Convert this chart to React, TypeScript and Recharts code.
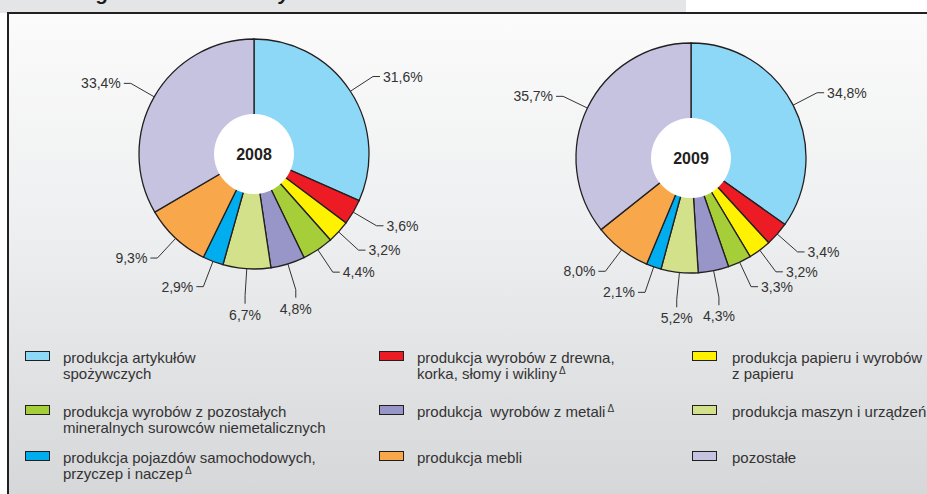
import { PieChart, Pie, Cell } from "recharts";

// ---------------------------------------------------------------------------
// Data
// ---------------------------------------------------------------------------

const HEADER = "według działów PKD w styczniu";

const YEARS = ["2008", "2009"];

// legend / slice names, "\n" = line break in the legend
const CATEGORIES = [
  "produkcja artykułów\nspożywczych",
  "produkcja wyrobów z drewna,\nkorka, słomy i wikliny",
  "produkcja papieru i wyrobów\nz papieru",
  "produkcja wyrobów z pozostałych\nmineralnych surowców niemetalicznych",
  "produkcja  wyrobów z metali",
  "produkcja maszyn i urządzeń",
  "produkcja pojazdów samochodowych,\nprzyczep i naczep",
  "produkcja mebli",
  "pozostałe",
];

// categories marked with the Δ sign
const DELTA = [false, true, false, false, true, true, true, false, false];

const SHARE_2008 = [31.6, 3.6, 3.2, 4.4, 4.8, 6.7, 2.9, 9.3, 33.4];
const SHARE_2009 = [34.8, 3.4, 3.2, 3.3, 4.3, 5.2, 2.1, 8.0, 35.7];

const COLORS = [
  "#8dd7f7",
  "#ed1c24",
  "#fff200",
  "#a6ce39",
  "#9895c8",
  "#d3e18b",
  "#00aeef",
  "#f9a74b",
  "#c6c3e1",
];

// ---------------------------------------------------------------------------
// Styles
// ---------------------------------------------------------------------------

const FONT = '"Liberation Sans", Arial, sans-serif';
const INK = "#231f20";
const TEXT = "#333333";
const RAD = Math.PI / 180;

const fmt = (v: number) => `${v.toFixed(1).replace(".", ",")}%`;

// Leader line + value label, placed from the slice's mid angle
function renderLabel(props: any) {
  const { cx, cy, midAngle, outerRadius, value } = props;
  const cos = Math.cos(-midAngle * RAD);
  const sin = Math.sin(-midAngle * RAD);
  const x0 = cx + outerRadius * cos;
  const y0 = cy + outerRadius * sin;
  const r1 = outerRadius + 27;
  const x1 = cx + r1 * cos;
  const y1 = cy + r1 * sin;

  const side = Math.abs(cos) > 0.3;
  let x2 = x1;
  let y2 = y1;
  let tx: number;
  let ty: number;
  let anchor: "start" | "end" | "middle";
  if (side) {
    x2 = x1 + (cos > 0 ? 7 : -7);
    tx = x2 + (cos > 0 ? 3 : -3);
    ty = y2;
    anchor = cos > 0 ? "start" : "end";
  } else {
    y2 = y1 + (sin > 0 ? 8 : -8);
    tx = x2;
    ty = y2 + (sin > 0 ? 11 : -11);
    anchor = "middle";
  }

  return (
    <g>
      <polyline
        points={`${x0},${y0} ${x1},${y1} ${x2},${y2}`}
        fill="none"
        stroke={TEXT}
        strokeWidth={1}
      />
      <text
        x={tx}
        y={ty}
        textAnchor={anchor}
        dominantBaseline="central"
        fontSize={14}
        fontFamily={FONT}
        fill={TEXT}
      >
        {fmt(value)}
      </text>
    </g>
  );
}

// ---------------------------------------------------------------------------
// App
// ---------------------------------------------------------------------------

const PIES = [
  { year: YEARS[0], values: SHARE_2008, cx: 254, cy: 154 },
  { year: YEARS[1], values: SHARE_2009, cx: 691, cy: 158 },
];

const COL_SWATCH = [25, 379, 692];
const COL_TEXT = [63, 417, 732];
const ROW_TOP = [350, 404, 450];

export default function App() {
  return (
    <div
      style={{
        position: "fixed",
        left: 0,
        top: 0,
        width: 927,
        height: 494,
        overflow: "hidden",
        background: "#ffffff",
        fontFamily: FONT,
      }}
    >
      <style>{"html,body{margin:0;padding:0;overflow:hidden}"}</style>

      {/* cut-off section header */}
      <div
        style={{
          position: "absolute",
          left: 0,
          top: 0,
          width: 686,
          height: 13,
          background: "#e4e5e7",
          overflow: "hidden",
        }}
      >
        <div
          style={{
            position: "absolute",
            left: 40,
            top: -17,
            fontSize: 20,
            lineHeight: "20px",
            fontWeight: 700,
            fontStyle: "italic",
            color: "#1a1a1a",
            whiteSpace: "nowrap",
          }}
        >
          {HEADER}
        </div>
      </div>

      {/* framed panel: gradient fill, then left and top rules */}
      <div
        style={{
          position: "absolute",
          left: 8,
          top: 13,
          right: 0,
          bottom: 0,
          background: "linear-gradient(#fbfbfb 0%, #eeeff0 45%, #d6d7d9 100%)",
        }}
      />
      <div
        style={{
          position: "absolute",
          left: 7,
          top: 12,
          width: 1.5,
          bottom: 0,
          background: INK,
        }}
      />
      <div
        style={{
          position: "absolute",
          left: 7,
          top: 12,
          right: 0,
          height: 1.5,
          background: INK,
        }}
      />

      <div
        style={{
          position: "absolute",
          left: 0,
          top: 0,
          width: 880,
          height: 330,
          overflow: "hidden",
        }}
      >
        <PieChart
          width={880}
          height={330}
          margin={{ top: 0, right: 0, bottom: 0, left: 0 }}
          accessibilityLayer={false}
        >
          {PIES.map((p) => (
            <Pie
              key={`pie-${p.year}`}
              data={p.values.map((v, i) => ({ name: CATEGORIES[i], value: v }))}
              dataKey="value"
              cx={p.cx}
              cy={p.cy}
              outerRadius={115}
              startAngle={90}
              endAngle={-270}
              stroke={INK}
              strokeWidth={1.3}
              label={renderLabel}
              labelLine={false}
              isAnimationActive={false}
            >
              {p.values.map((_, i) => (
                <Cell key={i} fill={COLORS[i]} />
              ))}
            </Pie>
          ))}
          {PIES.map((p) => (
            <Pie
              key={`hole-${p.year}`}
              data={[{ name: p.year, value: 1 }]}
              dataKey="value"
              cx={p.cx}
              cy={p.cy}
              outerRadius={40}
              fill="#ffffff"
              stroke="none"
              labelLine={false}
              label={(lp: any) => (
                <text
                  x={lp.cx}
                  y={lp.cy}
                  textAnchor="middle"
                  dominantBaseline="central"
                  fontSize={16}
                  fontWeight={700}
                  fontFamily={FONT}
                  fill={INK}
                >
                  {p.year}
                </text>
              )}
              isAnimationActive={false}
            />
          ))}
        </PieChart>
      </div>

      {/* legend */}
      {CATEGORIES.map((name, i) => {
        const col = i % 3;
        const row = Math.floor(i / 3);
        const lines = name.split("\n");
        return (
          <div key={name}>
            <div
              style={{
                position: "absolute",
                left: COL_SWATCH[col],
                top: ROW_TOP[row] + 1,
                width: 25,
                height: 10,
                boxSizing: "border-box",
                border: `1.5px solid ${INK}`,
                background: COLORS[i],
              }}
            />
            <div
              style={{
                position: "absolute",
                left: COL_TEXT[col],
                top: ROW_TOP[row],
                fontSize: 15,
                lineHeight: "16px",
                color: TEXT,
                whiteSpace: "pre",
              }}
            >
              {lines.map((ln, k) => (
                <div key={k}>
                  {ln}
                  {DELTA[i] && k === lines.length - 1 ? (
                    <span
                      style={{
                        fontSize: 10,
                        position: "relative",
                        top: -5,
                        marginLeft: 2,
                      }}
                    >
                      Δ
                    </span>
                  ) : null}
                </div>
              ))}
            </div>
          </div>
        );
      })}
    </div>
  );
}
